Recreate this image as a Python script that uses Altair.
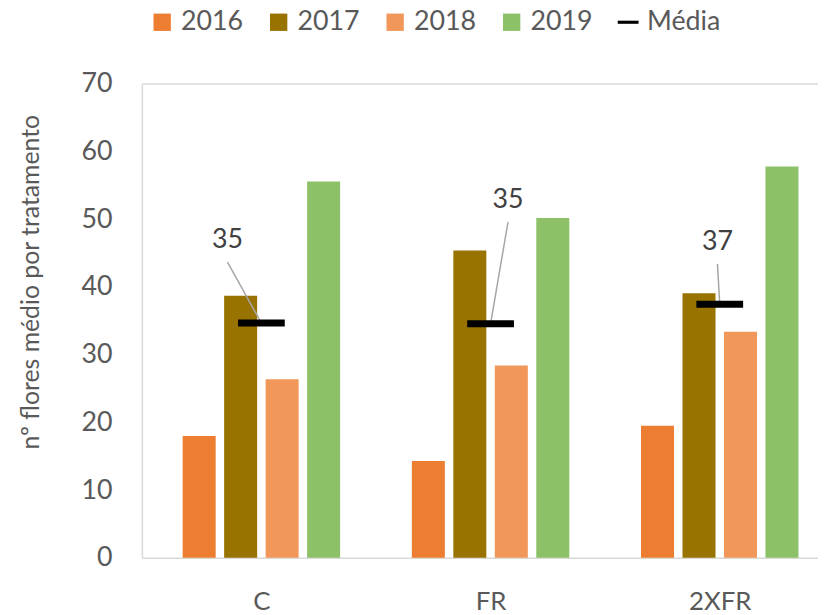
import json
import altair as alt
import pandas as pd

# ---------------- data ----------------
categories = ["C", "FR", "2XFR"]
years = ["2016", "2017", "2018", "2019"]
v2016 = [18.0, 14.3, 19.5]
v2017 = [38.7, 45.4, 39.1]
v2018 = [26.4, 28.4, 33.4]
v2019 = [55.6, 50.2, 57.8]
mean_name = "Média"
year_colors = ["#ED7D31", "#997300", "#F1975A", "#8CC168"]
mean_color = "#000000"
# placement of the mean labels (moved by hand in the original)
label_shift = [-0.148, 0.076, -0.010]   # horizontal shift, in group widths
label_level = [46.9, 52.8, 46.6]        # vertical position, in axis units

# ---------------- layout constants ----------------
W, H = 682, 478
GROUP_PX = 234.6
BAR_STEP = 0.181
BAR_PX = 33.3
TXT = "#595959"
BORDER = "#D9D9D9"

series = [v2016, v2017, v2018, v2019]
rows = []
for j, (yr, vals) in enumerate(zip(years, series)):
    for i, (cat, v) in enumerate(zip(categories, vals)):
        rows.append({"cat": cat, "pos": i + (j - 1.5) * BAR_STEP, "serie": yr, "valor": v})
bars_df = pd.DataFrame(rows)

means = [sum(s[i] for s in series) / len(series) for i in range(len(categories))]
mean_df = pd.DataFrame({
    "cat": categories,
    "pos": list(range(len(categories))),
    "serie": mean_name,
    "valor": means,
    "label": [f"{round(m):d}" for m in means],
    "lx": [i + d for i, d in enumerate(label_shift)],
    "ly": label_level,
    "ly0": [l - 3.2 for l in label_level],
})

xscale = alt.Scale(domain=[-0.5, -0.5 + W / GROUP_PX], nice=False, zero=False)
yscale = alt.Scale(domain=[0, 70], nice=False)

legend_domain = years + [mean_name]
color_scale = alt.Scale(domain=legend_domain, range=year_colors + [mean_color])
dash_path = "M-1.2,-0.18L1.2,-0.18L1.2,0.18L-1.2,0.18Z"
shape_scale = alt.Scale(domain=legend_domain, range=["square"] * len(years) + [dash_path])

legend = alt.Legend(
    orient="none", legendX=7.0, legendY=-76, direction="horizontal", title=None,
    symbolSize=306, symbolStrokeWidth=0, symbolOpacity=1,
    labelFontSize=27, labelColor=TXT, labelOffset=5.5, columnPadding=21.5, padding=0,
    labelFont="Lato",
)

x_axis = alt.Axis(
    values=list(range(len(categories))),
    labelExpr=f"{json.dumps(categories)}[datum.value]",
    title=None, ticks=False, grid=False, domainColor=BORDER, domainWidth=1.5,
    labelFontSize=26, labelColor=TXT, labelPadding=31, labelFlush=False, labelFont="Lato",
)
y_axis = alt.Axis(
    values=list(range(0, 71, 10)), ticks=False, grid=False,
    domainColor=BORDER, domainWidth=1.5,
    labelFontSize=27, labelColor=TXT, labelPadding=30, labelFont="Lato",
    title="nº flores médio por tratamento", titleFontSize=25, titleColor=TXT,
    titleFontWeight="normal", titleFont="Lato",
    titleX=-104, titleY=199.5, titleAngle=270, titleBaseline="alphabetic", titleAlign="center",
)

bars = alt.Chart(bars_df).mark_bar(size=BAR_PX, orient="vertical").encode(
    x=alt.X("pos:Q", scale=xscale, axis=x_axis),
    y=alt.Y("valor:Q", scale=yscale, axis=y_axis, stack=None),
    color=alt.Color("serie:N", scale=color_scale, legend=legend),
)

top_border = alt.Chart(pd.DataFrame({"v": [70]})).mark_rule(color=BORDER, strokeWidth=1.5).encode(
    y=alt.Y("v:Q", scale=yscale)
)

leaders = alt.Chart(mean_df).mark_rule(color="#A6A6A6", strokeWidth=1.5).encode(
    x=alt.X("lx:Q", scale=xscale), y=alt.Y("ly0:Q", scale=yscale),
    x2="pos:Q", y2="valor:Q",
)

markers = alt.Chart(mean_df).mark_point(
    shape="M-1,-0.22L1,-0.22L1,0.22L-1,0.22Z", filled=True, size=1544, opacity=1, strokeWidth=0
).encode(
    x=alt.X("pos:Q", scale=xscale), y=alt.Y("valor:Q", scale=yscale),
    color=alt.Color("serie:N", scale=color_scale, legend=legend),
    shape=alt.Shape("serie:N", scale=shape_scale, legend=legend),
)

labels = alt.Chart(mean_df).mark_text(
    fontSize=27, color="#404040", baseline="middle", align="center", font="Lato"
).encode(
    x=alt.X("lx:Q", scale=xscale), y=alt.Y("ly:Q", scale=yscale), text="label:N",
)

chart = alt.layer(top_border, bars, leaders, markers, labels).properties(
    width=W, height=H,
    autosize=alt.AutoSizeParams(type="none"),
    padding={"left": 135, "top": 74, "right": 0, "bottom": 55},
).configure(font="Lato").configure_view(stroke=None)

chart.save("out.html", embed_options={"renderer": "svg", "actions": False})
